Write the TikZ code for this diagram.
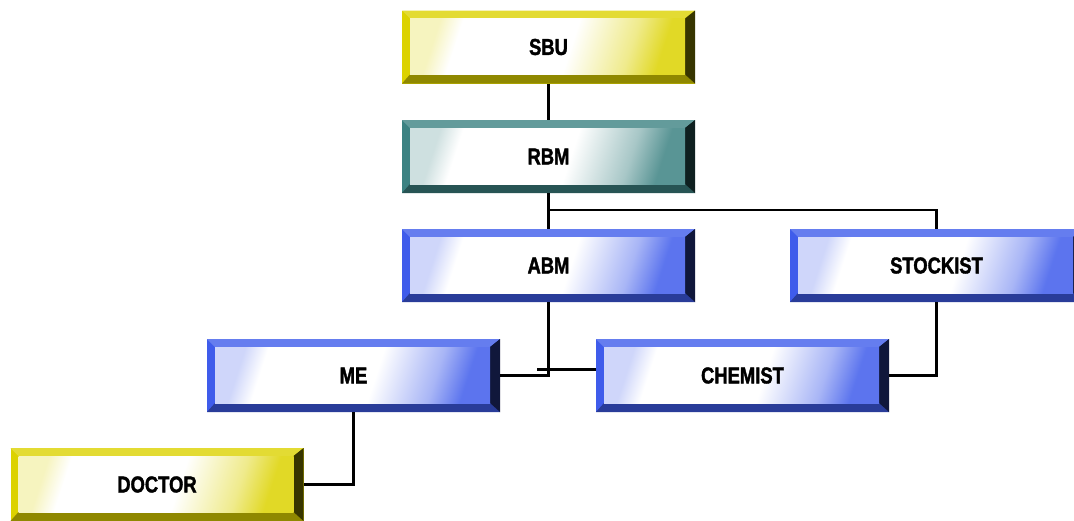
\documentclass[tikz,border=0pt]{standalone}
\usepackage{fontspec}
\newfontfamily\lab[FakeStretch=0.8,FakeBold=1.6]{Liberation Sans}
\definecolor{ylw}{HTML}{DCD200}
\definecolor{tealc}{HTML}{3C8282}
\definecolor{blu}{HTML}{3F5CEB}
\colorlet{bcol}{blu}
\pgfdeclarehorizontalshading[bcol]{boxsh}{100bp}{color(0bp)=(bcol!25!white); color(25bp)=(bcol!25!white); color(30bp)=(white); color(55bp)=(white); color(68bp)=(bcol!45!white); color(75bp)=(bcol!85!white); color(100bp)=(bcol!85!white)}
\tikzset{
  orgbox/.style={rectangle, minimum width=293pt, minimum height=73pt, inner sep=0pt,
    fill=#1, font=\lab\bfseries\fontsize{23}{23}\selectfont,
    path picture={
      \colorlet{bcol}{#1}
      \fill[#1!80!white] (path picture bounding box.north west) -- (path picture bounding box.north east)
        -- ([xshift=-10pt,yshift=-8pt]path picture bounding box.north east)
        -- ([xshift=8pt,yshift=-8pt]path picture bounding box.north west) -- cycle;
      \fill[#1!65!black] (path picture bounding box.south west) -- (path picture bounding box.south east)
        -- ([xshift=-10pt,yshift=9pt]path picture bounding box.south east)
        -- ([xshift=8pt,yshift=9pt]path picture bounding box.south west) -- cycle;
      \fill[#1!25!black] (path picture bounding box.north east) -- (path picture bounding box.south east)
        -- ([xshift=-10pt,yshift=9pt]path picture bounding box.south east)
        -- ([xshift=-10pt,yshift=-8pt]path picture bounding box.north east) -- cycle;
      \shade[shading=boxsh, shading angle=-18] ([xshift=8pt,yshift=-8pt]path picture bounding box.north west)
        rectangle ([xshift=-10pt,yshift=9pt]path picture bounding box.south east);
    }},
  link/.style={draw=black, line width=2.2pt}
}
\begin{document}
\begin{tikzpicture}[x=1pt,y=-1pt]
  \clip (0,0) rectangle (1074,520);
  \fill[white] (0,0) rectangle (1074,520);
  \node[orgbox=ylw]   (sbu)  at (548.5,47)    {SBU};
  \node[orgbox=tealc] (rbm)  at (548.5,156.5) {RBM};
  \node[orgbox=blu]   (abm)  at (548.5,265.5) {ABM};
  \node[orgbox=blu]   (stk)  at (936.5,265.5) {STOCKIST};
  \node[orgbox=blu]   (me)   at (353.5,375.5) {ME};
  \node[orgbox=blu]   (chem) at (742.5,375.5) {CHEMIST};
  \node[orgbox=ylw]   (doc)  at (157,484.5)   {DOCTOR};
  \coordinate (j1) at (548.5,210);
  \coordinate (tick) at (537,369.5);
  \draw[link] (sbu.south) -- (rbm.north);
  \draw[link] (rbm.south) -- (abm.north);
  \draw[link] (j1) -| (stk.north);
  \draw[link] (abm.south) |- (me.east);
  \draw[link] (tick) -- (tick -| chem.west);
  \draw[link] (stk.south) |- (chem.east);
  \draw[link] (me.south) |- (doc.east);
\end{tikzpicture}
\end{document}
